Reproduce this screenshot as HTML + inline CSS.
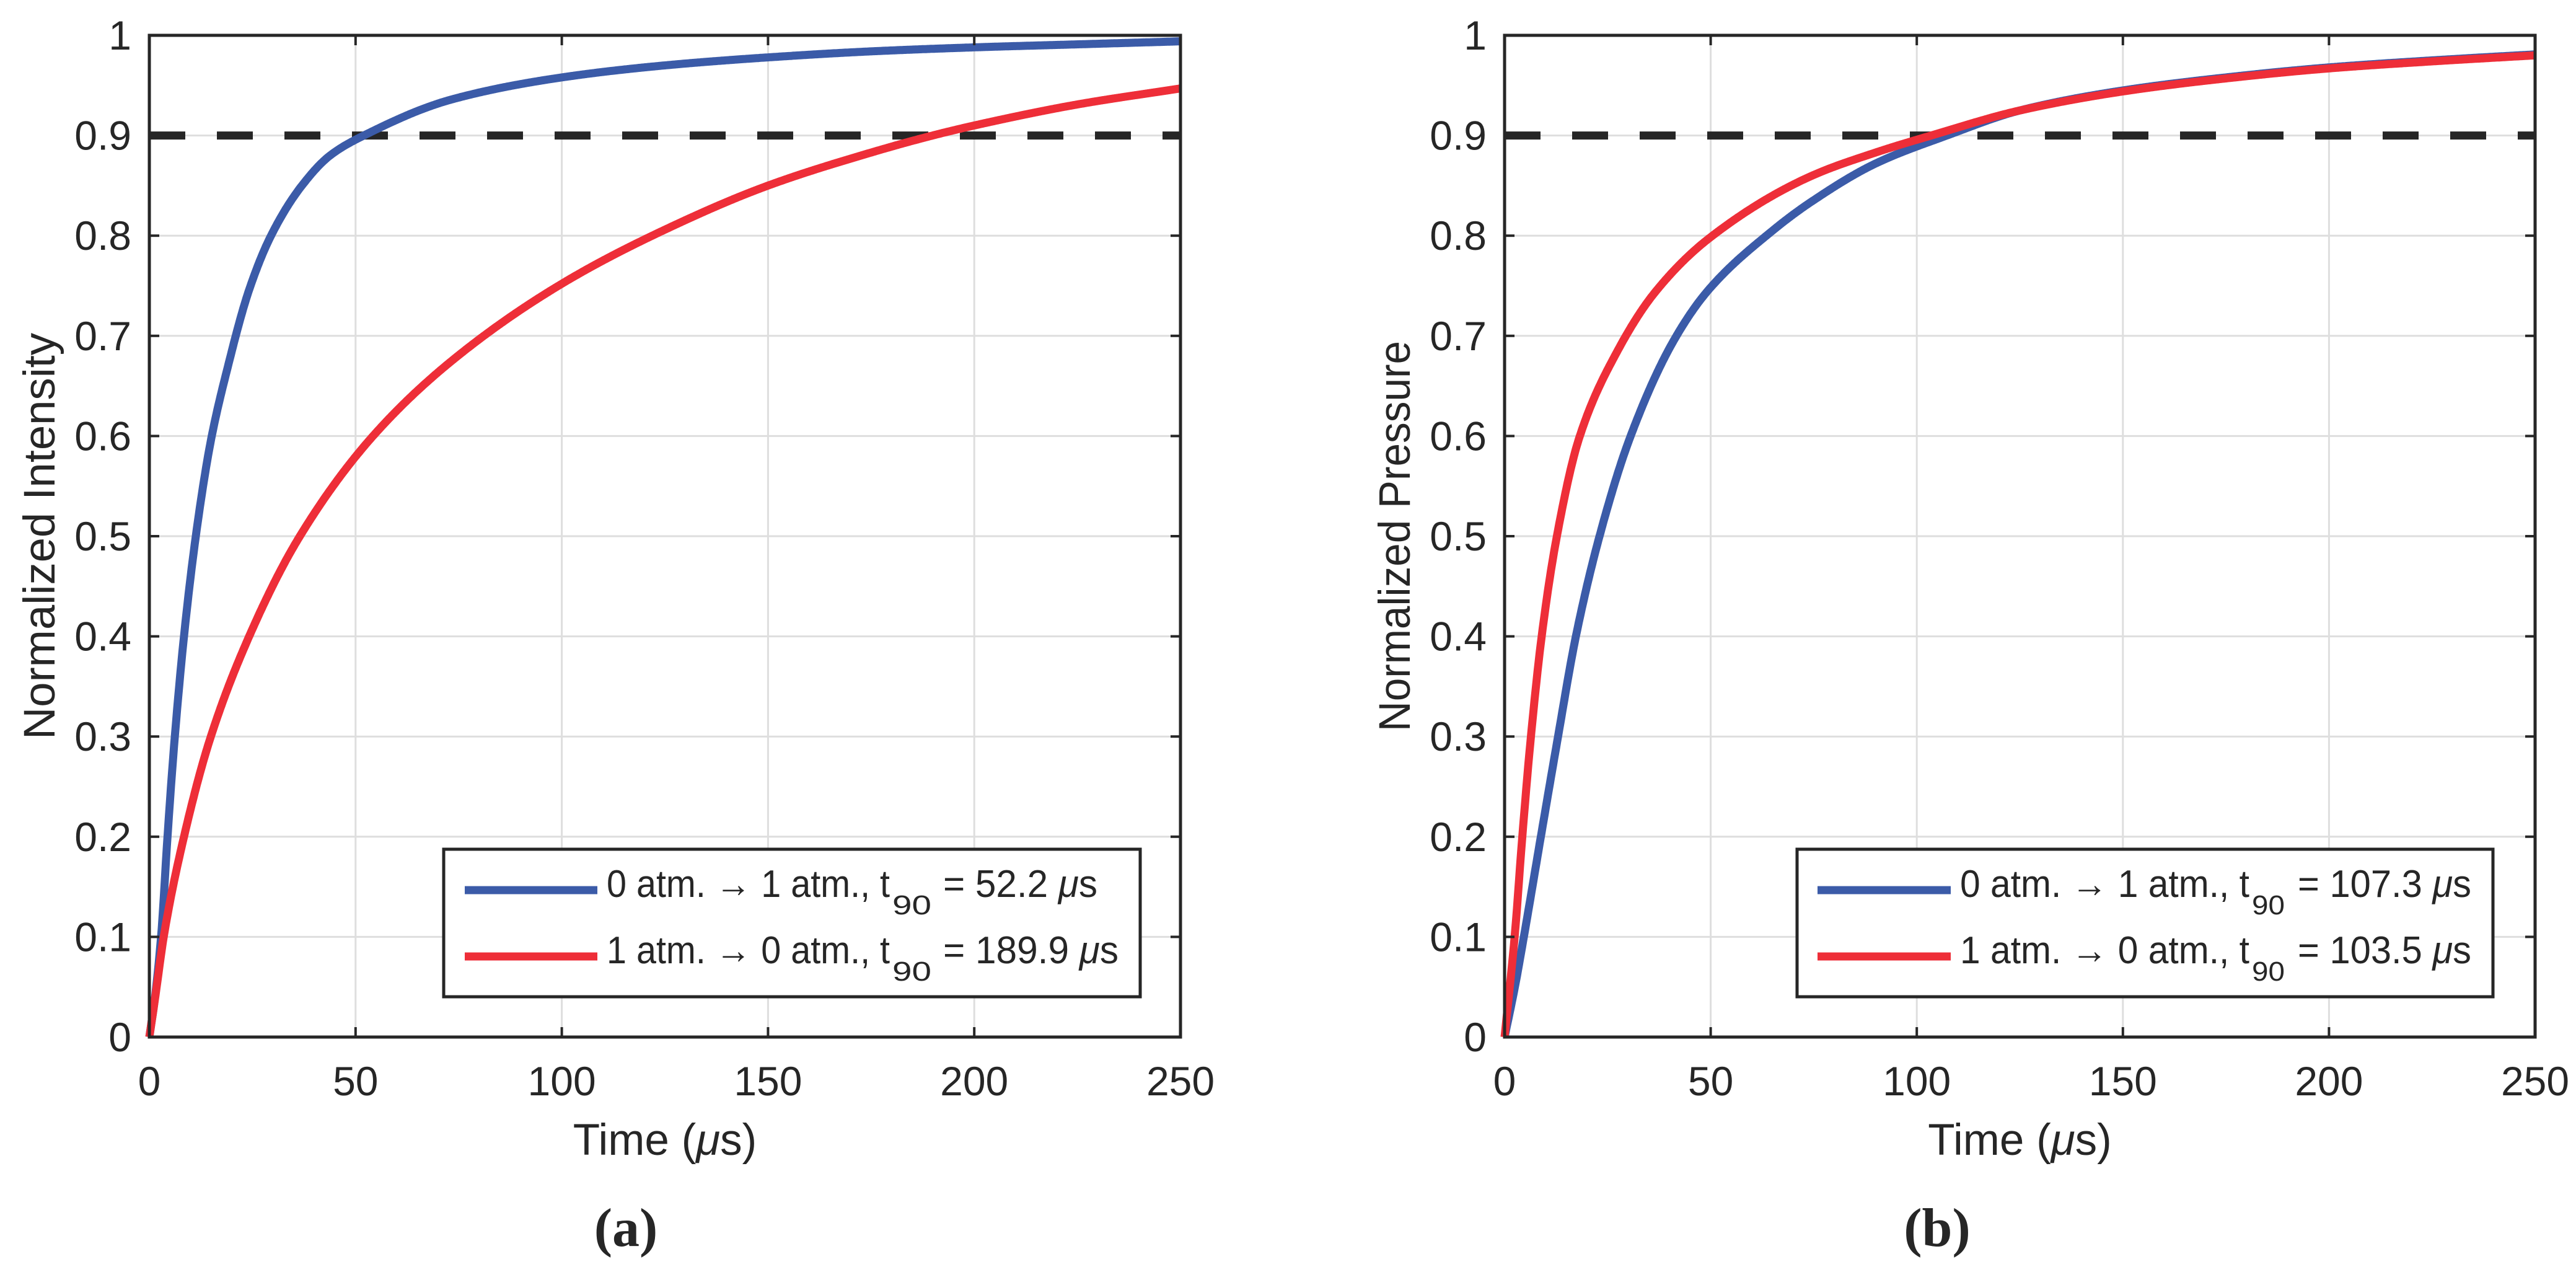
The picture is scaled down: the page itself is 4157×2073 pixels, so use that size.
<!DOCTYPE html>
<html><head><meta charset="utf-8"><style>
html,body{margin:0;padding:0;background:#fff;}
svg{display:block;}
text{font-family:"Liberation Sans",sans-serif;fill:#262626;}
</style></head><body>
<svg id="fig" width="4157" height="2073" viewBox="0 0 4157 2073" xmlns="http://www.w3.org/2000/svg"></svg>
<script>
// ---- data ----
const xTicks = [0, 50, 100, 150, 200, 250];
const yTicks = [0, 0.1, 0.2, 0.3, 0.4, 0.5, 0.6, 0.7, 0.8, 0.9, 1];
const yTickLabels = ["0","0.1","0.2","0.3","0.4","0.5","0.6","0.7","0.8","0.9","1"];
const thresholdValue = 0.9;

const aBlueT = [0, 1.35, 2.9, 4.4, 6.1, 8.4, 11.2, 14.9, 18.9, 24.2, 29.5, 36.8, 43.8, 52.0, 73.3, 100, 125, 150, 175, 200, 225, 250];
const aBlueY = [0, 0.039, 0.103, 0.2, 0.296, 0.4, 0.498, 0.595, 0.667, 0.746, 0.8, 0.849, 0.88, 0.9, 0.936, 0.958, 0.97, 0.978, 0.984, 0.988, 0.991, 0.994];
const aRedT = [0, 1.4, 3.6, 8.4, 14.6, 24.2, 36.2, 53.8, 73.3, 100, 125, 150, 175, 189.9, 200, 225, 250];
const aRedY = [0, 0.039, 0.103, 0.2, 0.296, 0.4, 0.498, 0.598, 0.675, 0.752, 0.806, 0.85, 0.883, 0.9, 0.91, 0.931, 0.947];

const bBlueT = [0, 2.5, 4.8, 8.8, 12.8, 17.3, 22.9, 30.4, 41, 49.5, 65, 74.1, 90, 107.3, 125, 150, 175, 200, 225, 250];
const bBlueY = [0, 0.05, 0.103, 0.2, 0.296, 0.4, 0.498, 0.598, 0.695, 0.746, 0.805, 0.833, 0.872, 0.9, 0.925, 0.945, 0.958, 0.968, 0.975, 0.981];
const bRedT = [0, 2.5, 4.3, 6.3, 9.0, 12.6, 18.1, 27.4, 36.4, 49.5, 74.1, 90, 103.5, 125, 150, 175, 200, 225, 250];
const bRedY = [0, 0.103, 0.2, 0.296, 0.4, 0.498, 0.598, 0.685, 0.743, 0.797, 0.859, 0.883, 0.9, 0.925, 0.944, 0.957, 0.967, 0.974, 0.98];

const NS = "http://www.w3.org/2000/svg";
const svg = document.getElementById('fig');
function mk(tag, attrs, parent){ const e=document.createElementNS(NS,tag); for(const k in attrs) e.setAttribute(k,attrs[k]); (parent||svg).appendChild(e); return e; }

const BLUE="#3b5ba8", RED="#ee2e38", INK="#262626";

function monotone(xs, ys){
  const n=xs.length, d=[], m=new Array(n);
  for(let i=0;i<n-1;i++) d.push((ys[i+1]-ys[i])/(xs[i+1]-xs[i]));
  m[0]=d[0]; m[n-1]=d[n-2];
  for(let i=1;i<n-1;i++){
    if(d[i-1]*d[i]<=0) m[i]=0;
    else { const h0=xs[i]-xs[i-1], h1=xs[i+1]-xs[i];
      const w1=2*h1+h0, w2=h1+2*h0; m[i]=(w1+w2)/(w1/d[i-1]+w2/d[i]); }
  }
  return function(x){
    let i=0; while(i<n-2 && x>xs[i+1]) i++;
    const h=xs[i+1]-xs[i], t=(x-xs[i])/h, t2=t*t, t3=t2*t;
    return (2*t3-3*t2+1)*ys[i]+(t3-2*t2+t)*h*m[i]+(-2*t3+3*t2)*ys[i+1]+(t3-t2)*h*m[i+1];
  };
}

function panel(cfg){
  const L=cfg.left, R=cfg.right, T=57, B=1673;
  const sx=v=>L+(v/250)*(R-L);
  const sy=v=>B-v*(B-T);
  const g=mk('g',{});
  
  
  xTicks.forEach(t=>{ if(t>0&&t<250){ const l=mk('line',{x1:sx(t),x2:sx(t),y1:T,y2:B,stroke:"#dedede","stroke-width":3},g);
    
     }});
  yTicks.forEach(v=>{ if(v>0&&v<1){ const l=mk('line',{x1:L,x2:R,y1:sy(v),y2:sy(v),stroke:"#dedede","stroke-width":3},g);
    
     }});
  const th=mk('line',{x1:L,x2:R,y1:sy(thresholdValue),y2:sy(thresholdValue),stroke:INK,"stroke-width":13,"stroke-dasharray":"58 51"},g);
  
  
  cfg.series.forEach(s=>{
    const f=monotone(s.t,s.y);
    const t0=s.t[0], t1=s.t[s.t.length-1];
    let d="";
    for(let k=0;k<=1000;k++){
      const t=t0+(t1-t0)*k/1000;
      d+=(k?" L":"M")+sx(t).toFixed(1)+","+sy(f(t)).toFixed(1);
    }
    const p=mk('path',{d:d,fill:"none",stroke:s.color,"stroke-width":13,"stroke-linejoin":"round"},g);
    
    
  });
  const box=mk('rect',{x:L,y:T,width:R-L,height:B-T,fill:"none",stroke:INK,"stroke-width":5},g);
  
  
  xTicks.forEach(t=>{
    const x=sx(t);
    mk('line',{x1:x,x2:x,y1:B,y2:B-16,stroke:INK,"stroke-width":4},g);
    mk('line',{x1:x,x2:x,y1:T,y2:T+16,stroke:INK,"stroke-width":4},g);
    const tx=mk('text',{x:x,y:1767,"font-size":66,"text-anchor":"middle"},g); tx.textContent=String(t);
    
    
  });
  yTicks.forEach((v,i)=>{
    const y=sy(v);
    mk('line',{x1:L,x2:L+16,y1:y,y2:y,stroke:INK,"stroke-width":4},g);
    mk('line',{x1:R,x2:R-16,y1:y,y2:y,stroke:INK,"stroke-width":4},g);
    const tx=mk('text',{x:L-29,y:y+23,"font-size":66,"text-anchor":"end"},g); tx.textContent=yTickLabels[i];
    
    
  });
  const xt=mk('text',{x:(L+R)/2,y:1863,"font-size":71,"text-anchor":"middle"},g);
  xt.innerHTML='Time (<tspan font-style="italic">μ</tspan>s)';
  
  
  const yt=mk('text',{x:0,y:0,"font-size":71,"text-anchor":"middle",transform:"translate("+(L-153)+","+((T+B)/2)+") rotate(-90)",textLength:cfg.ylen,lengthAdjust:"spacingAndGlyphs"},g);
  yt.textContent=cfg.ytitle;
  
  
  const lg=mk('g',{},g);
  
  
  mk('rect',{x:cfg.lg.x1,y:1370,width:cfg.lg.x2-cfg.lg.x1,height:238,fill:"#fff",stroke:INK,"stroke-width":5},lg);
  cfg.lg.rows.forEach((r,i)=>{
    const yy=[1436,1543][i];
    const en=mk('g',{},lg);
    
    
    mk('line',{x1:cfg.lg.s1,x2:cfg.lg.s2,y1:yy,y2:yy,stroke:r.color,"stroke-width":13},en);
    const t1=mk('text',{x:r.a[0],y:yy+11,"font-size":62,textLength:r.a[1]-r.a[0],lengthAdjust:"spacingAndGlyphs"},en); t1.textContent=r.pre;
    const t2=mk('text',{x:r.b[0],y:yy+39,"font-size":44,textLength:r.b[1]-r.b[0],lengthAdjust:"spacingAndGlyphs"},en); t2.textContent="90";
    const t3=mk('text',{x:r.c[0],y:yy+11,"font-size":62,textLength:r.c[1]-r.c[0],lengthAdjust:"spacingAndGlyphs"},en);
    t3.innerHTML='= '+r.val+' <tspan font-style="italic">μ</tspan>s';
  });
  const pl=mk('text',{x:cfg.labelX,y:2010,"font-size":88,"font-weight":"bold","text-anchor":"middle",style:'font-family:"Liberation Serif",serif'},g);
  pl.textContent=cfg.label;
  
  
}

panel({id:'a',left:241,right:1905,ytitle:'Normalized Intensity',ylen:656,label:'(a)',labelX:1010,
  series:[{t:aBlueT,y:aBlueY,color:BLUE,name:'series-0-to-1-atm'},{t:aRedT,y:aRedY,color:RED,name:'series-1-to-0-atm'}],
  lg:{x1:716,x2:1840,s1:750,s2:964,rows:[
    {color:BLUE,pre:'0 atm. → 1 atm., t',val:'52.2',a:[979,1436],b:[1440,1503],c:[1522,1771]},
    {color:RED,pre:'1 atm. → 0 atm., t',val:'189.9',a:[979,1436],b:[1440,1503],c:[1522,1805]}]}});
panel({id:'b',left:2428,right:4091,ytitle:'Normalized Pressure',ylen:630,label:'(b)',labelX:3126,
  series:[{t:bBlueT,y:bBlueY,color:BLUE,name:'series-0-to-1-atm'},{t:bRedT,y:bRedY,color:RED,name:'series-1-to-0-atm'}],
  lg:{x1:2900,x2:4023,s1:2933,s2:3148,rows:[
    {color:BLUE,pre:'0 atm. → 1 atm., t',val:'107.3',a:[3163,3630],b:[3634,3687],c:[3708,3988]},
    {color:RED,pre:'1 atm. → 0 atm., t',val:'103.5',a:[3163,3630],b:[3634,3687],c:[3708,3988]}]}});
</script>
</body></html>
